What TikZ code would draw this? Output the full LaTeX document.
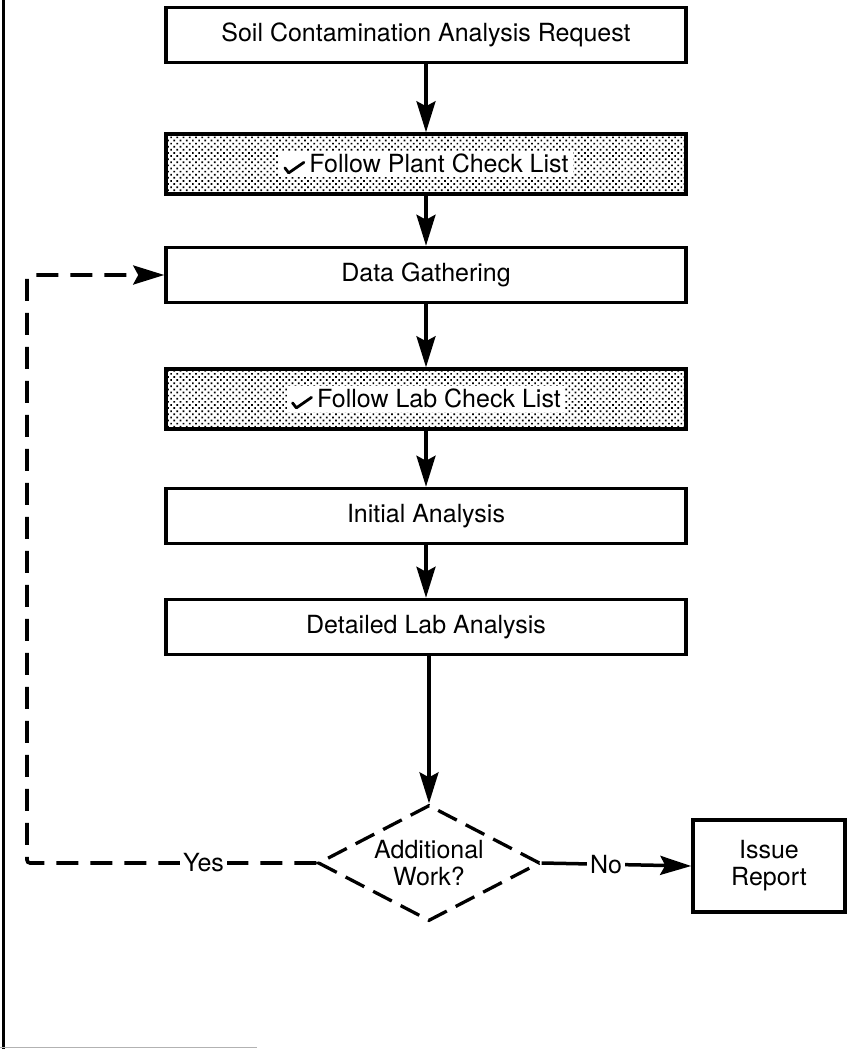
\documentclass[tikz,border=0pt]{standalone}
\usepackage{fontspec}
\setmainfont{TeX Gyre Heros}
\usetikzlibrary{arrows.meta,shapes.geometric,patterns.meta}
% small hand-drawn check mark set before the check-list items
\newcommand\chkmark{\tikz[baseline=0pt,x=1pt,y=1pt]\draw[line width=2.8pt,line cap=round,line join=round](0,4.5)--(3.8,-0.5)--(19,10);}
\begin{document}
\begin{tikzpicture}[x=1pt,y=-1pt,
  font=\fontsize{25}{27}\selectfont,
  stepbox/.style={draw,line width=3.5pt,minimum width=520pt,minimum height=55pt,inner sep=0pt,fill=white},
  screenbox/.style={draw,line width=3.5pt,minimum width=520pt,minimum height=60pt,inner sep=0pt,
    pattern={Dots[distance=4.4pt,angle=45,radius=1.2pt]},pattern color=black},
  knockout/.style={fill=white,inner xsep=4pt,inner ysep=3pt},
  flow/.style={line width=3.5pt,-{Stealth[length=31pt,width=19pt,inset=5pt]}},
  loopline/.style={line width=3.6pt,dash pattern=on 22pt off 12pt,rounded corners=3pt,
    -{Stealth[length=31pt,width=19pt,inset=5pt]}},
  decision/.style={diamond,draw,line width=3.3pt,dash pattern=on 21pt off 10pt,
    minimum width=222pt,minimum height=116pt,inner sep=0pt},
  edgetext/.style={fill=white,inner sep=3pt}]
\useasboundingbox (0,0) rectangle (847,1049);

% page frame edges
\draw[line width=3pt] (3,0) -- (3,1049);
\draw[line width=1pt,gray!60] (0,1047.5) -- (257,1047.5);

% process steps
\node[stepbox] (b1) at (426,35) {Soil Contamination Analysis Request};
\node[screenbox] (b2) at (426,164) {};
\node[knockout] at (b2) {\chkmark\,Follow Plant Check List};
\node[stepbox] (b3) at (426,275) {Data Gathering};
\node[screenbox] (b4) at (426,399) {};
\node[knockout] at (b4) {\chkmark\,Follow Lab Check List};
\node[stepbox] (b5) at (426,516) {Initial Analysis};
\node[stepbox] (b6) at (426,627) {Detailed Lab Analysis};

% decision and outcome
\node[decision] (d) at (429,863) {};
\node[align=center] at (d) {Additional\\Work?};
\node[draw,line width=3.5pt,minimum width=152pt,minimum height=92pt,inner sep=0pt,align=center]
  (ir) at (769,866) {Issue\\Report};

% main flow
\draw[flow] (b1.south) -- (b2.north);
\draw[flow] (b2.south) -- (b3.north);
\draw[flow] (b3.south) -- (b4.north);
\draw[flow] (b4.south) -- (b5.north);
\draw[flow] (b5.south) -- (b6.north);
\draw[flow] (b6.south -| d.north) -- (d.north);
\draw[flow] (d.east) -- node[pos=0.43,edgetext]{No} (ir.west);

% loop back for additional work
\coordinate (lc) at (27,0);
\draw[loopline] (d.west) -- node[pos=0.39,edgetext]{Yes} (d.west -| lc)
  -- (b3.west -| lc) -- (b3.west);
\end{tikzpicture}
\end{document}
